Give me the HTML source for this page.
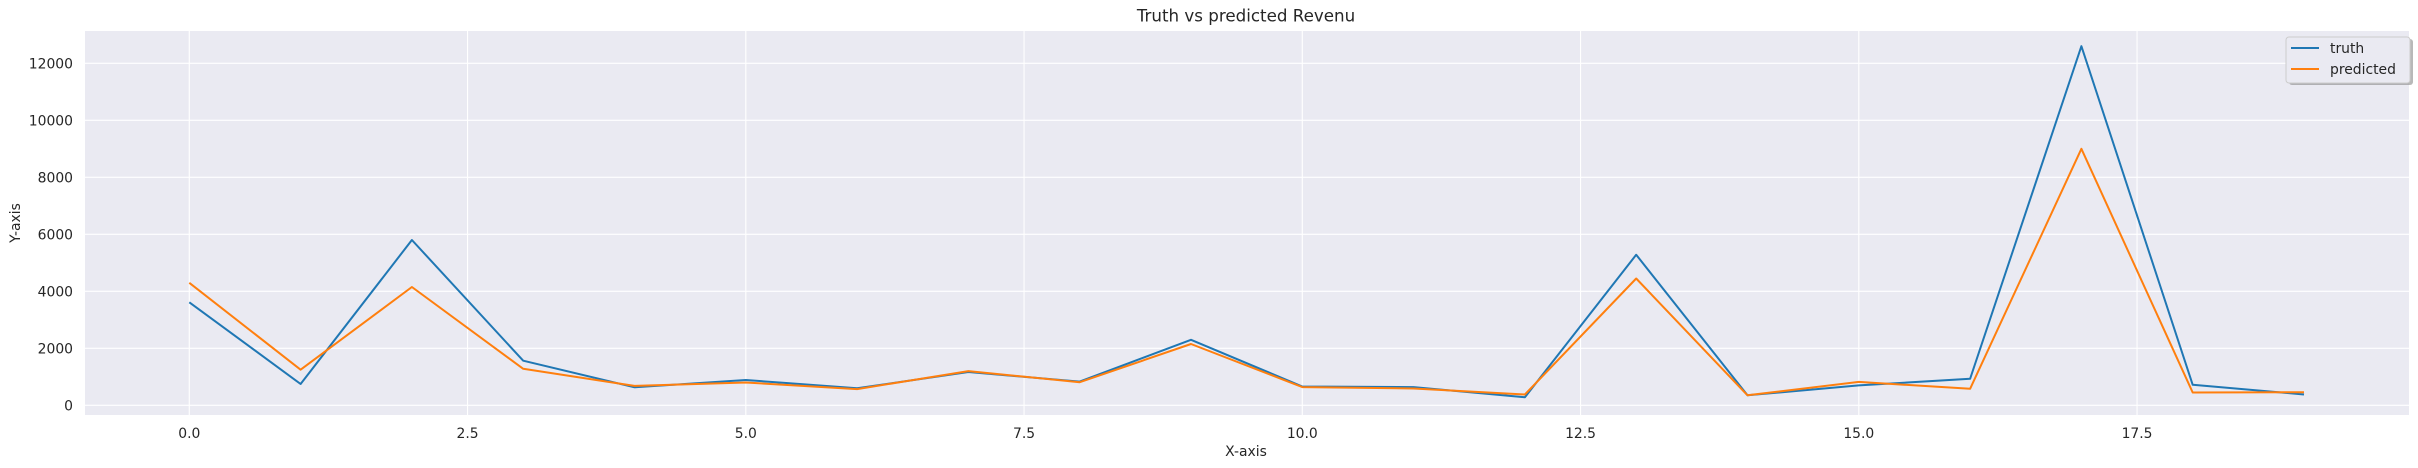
<!DOCTYPE html>
<html><head><meta charset="utf-8"><style>
html,body{margin:0;padding:0;background:#fff;}
svg{display:block;font-family:"DejaVu Sans","Liberation Sans",sans-serif;}
</style></head><body>
<svg id="chart" width="2418" height="468" viewBox="0 0 2418 468">
<rect x="0" y="0" width="2418" height="468" fill="#fff"/>
<rect id="plotbg" x="85" y="31" width="2324" height="384" fill="#eaeaf2"/>
<g id="grid"></g>
<g id="lines"></g>
<g id="ticks" fill="#262626" font-size="13.9"></g>
<text x="1246" y="21.5" text-anchor="middle" font-size="16.7" fill="#262626">Truth vs predicted Revenu</text>
<text x="1246" y="456" text-anchor="middle" font-size="13.9" fill="#262626">X-axis</text>
<text transform="translate(20,223) rotate(-90)" text-anchor="middle" font-size="13.9" fill="#262626">Y-axis</text>
<g>
<rect x="2289" y="39" width="124" height="46" rx="3" fill="#888" opacity="0.6"/>
<rect x="2286" y="37" width="124" height="46" rx="3" fill="#eaeaf2" stroke="#cccccc" stroke-width="1"/>
<g>
<line x1="2291" y1="48" x2="2319" y2="48" stroke="#1f77b4" stroke-width="2"/>
<text x="2330" y="53" font-size="13.9" fill="#262626">truth</text></g>
<g>
<line x1="2291" y1="69" x2="2319" y2="69" stroke="#ff7f0e" stroke-width="2"/>
<text x="2330" y="74" font-size="13.9" fill="#262626">predicted</text></g>
</g>
</svg>
<script>
const xIdx = [0,1,2,3,4,5,6,7,8,9,10,11,12,13,14,15,16,17,18,19];
const truthValues = [3614,747,5800,1565,630,888,596,1168,830,2300,660,640,280,5280,350,700,930,12600,720,380];
const predictedValues = [4300,1250,4150,1280,680,800,570,1200,810,2150,640,590,380,4450,350,820,580,9000,450,460];
const xTicks = [0,2.5,5,7.5,10,12.5,15,17.5];
const xTickLabels = ["0.0","2.5","5.0","7.5","10.0","12.5","15.0","17.5"];
const yTicks = [0,2000,4000,6000,8000,10000,12000];
const yTickLabels = ["0","2000","4000","6000","8000","10000","12000"];

const NS = "http://www.w3.org/2000/svg";
const X0 = 189.3, XU = 111.3, Y0 = 405.3, YU = 57/2000;
function xs(v){ return X0 + v*XU; }
function ys(v){ return Y0 - v*YU; }
function mk(tag, attrs, parent){ const e=document.createElementNS(NS,tag); for(const k in attrs) e.setAttribute(k,attrs[k]); parent.appendChild(e); return e; }

const grid = document.getElementById('grid');
const ticks = document.getElementById('ticks');
xTicks.forEach((t,i)=>{
  const l = mk('line',{x1:xs(t),x2:xs(t),y1:31,y2:415,stroke:'#fff','stroke-width':1.1},grid);
  
  
  const tx = mk('text',{x:xs(t),y:438,'text-anchor':'middle'},ticks);
  tx.textContent = xTickLabels[i];
  
  
});
yTicks.forEach((t,i)=>{
  const l = mk('line',{x1:85,x2:2409,y1:ys(t),y2:ys(t),stroke:'#fff','stroke-width':1.1},grid);
  
  
  const tx = mk('text',{x:73,y:ys(t)+5,'text-anchor':'end'},ticks);
  tx.textContent = yTickLabels[i];
  
  
});
const lines = document.getElementById('lines');
function series(vals,color,name){
  const pts = xIdx.map((x,i)=>xs(x).toFixed(1)+','+ys(vals[i]).toFixed(1)).join(' ');
  const p = mk('polyline',{points:pts,fill:'none',stroke:color,'stroke-width':2,'stroke-linejoin':'round'},lines);
  
  
}
series(truthValues,'#1f77b4','truth-line');
series(predictedValues,'#ff7f0e','predicted-line');
</script>
</body></html>
